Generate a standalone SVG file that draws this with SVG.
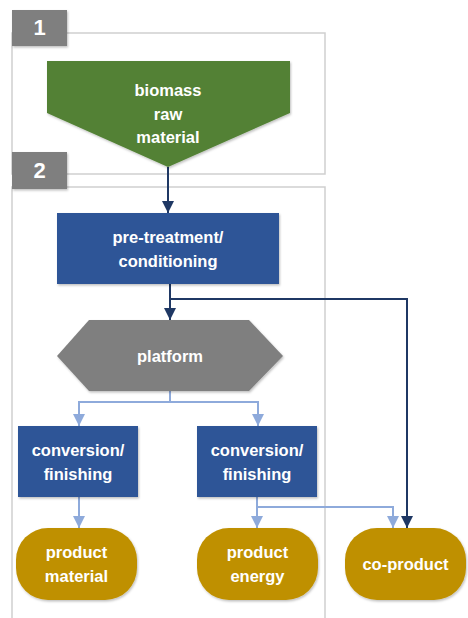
<svg xmlns="http://www.w3.org/2000/svg" width="468" height="618" viewBox="0 0 468 618">
  <style>
    .frame { fill: none; stroke: #cfcfcf; stroke-width: 1.5; }
    .tag { fill: #7f7f7f; }
    .tagtxt { fill: #ffffff; font-family: "Liberation Sans", Arial, sans-serif; font-weight: bold; font-size: 22px; text-anchor: middle; }
    .lbl { fill: #ffffff; font-family: "Liberation Sans", Arial, sans-serif; font-weight: bold; font-size: 16.5px; text-anchor: middle; }
    .raw { fill: #538135; }
    .proc { fill: #2f5597; }
    .plat { fill: #7f7f7f; }
    .prod { fill: #bf9000; }
    .main { fill: none; stroke: #1f3864; stroke-width: 2; }
    .side { fill: none; stroke: #8eaadb; stroke-width: 2; }
  </style>
  <defs>
    <filter id="shadow" x="-10%" y="-10%" width="130%" height="130%">
      <feDropShadow dx="1" dy="1.5" stdDeviation="1.2" flood-color="#000000" flood-opacity="0.25"/>
    </filter>
    <marker id="arrowMain" viewBox="0 0 10 10" refX="10" refY="5" markerWidth="12" markerHeight="12" markerUnits="userSpaceOnUse" orient="auto">
      <path d="M0,0 L10,5 L0,10 Z" fill="#1f3864"/>
    </marker>
    <marker id="arrowSide" viewBox="0 0 10 10" refX="10" refY="5" markerWidth="12" markerHeight="12" markerUnits="userSpaceOnUse" orient="auto">
      <path d="M0,0 L10,5 L0,10 Z" fill="#8eaadb"/>
    </marker>
  </defs>

  <rect width="468" height="618" fill="#ffffff"/>

  <!-- stage frames with numbered tags -->
  <g id="stage-1">
    <rect class="frame" x="12" y="33" width="313" height="141"/>
    <rect class="tag" x="12" y="10" width="55" height="36" filter="url(#shadow)"/>
    <text class="tagtxt" x="39.5" y="35">1</text>
  </g>
  <g id="stage-2">
    <path class="frame" d="M12,618 V187 H325 V618"/>
    <rect class="tag" x="12" y="152" width="55" height="37" filter="url(#shadow)"/>
    <text class="tagtxt" x="39.5" y="178">2</text>
  </g>

  <!-- connectors -->
  <g id="connectors">
    <path class="main" d="M168,167 V213" marker-end="url(#arrowMain)"/>
    <path class="main" d="M170,284 V320" marker-end="url(#arrowMain)"/>
    <path class="main" d="M170,299 H407 V528" marker-end="url(#arrowMain)"/>
    <path class="side" d="M170,391 V402 H79 V426" marker-end="url(#arrowSide)"/>
    <path class="side" d="M170,402 H258 V426" marker-end="url(#arrowSide)"/>
    <path class="side" d="M79,497 V528" marker-end="url(#arrowSide)"/>
    <path class="side" d="M257,497 V528" marker-end="url(#arrowSide)"/>
    <path class="side" d="M257,507 H393 V528" marker-end="url(#arrowSide)"/>
  </g>

  <!-- nodes -->
  <g id="biomass">
    <polygon class="raw" points="47,61 290,61 290,113 168,167 47,113" filter="url(#shadow)"/>
    <text class="lbl" x="168" y="96">biomass</text>
    <text class="lbl" x="168" y="119.5">raw</text>
    <text class="lbl" x="168" y="143">material</text>
  </g>
  <g id="pretreatment">
    <rect class="proc" x="57" y="213" width="222" height="71" filter="url(#shadow)"/>
    <text class="lbl" x="168" y="242.5">pre-treatment/</text>
    <text class="lbl" x="168" y="266.5">conditioning</text>
  </g>
  <g id="platform">
    <polygon class="plat" points="57,356 89,320 249,320 283,356 249,391 89,391" filter="url(#shadow)"/>
    <text class="lbl" x="170" y="362">platform</text>
  </g>
  <g id="conversion-material">
    <rect class="proc" x="18" y="426" width="120" height="71" filter="url(#shadow)"/>
    <text class="lbl" x="78" y="455.5">conversion/</text>
    <text class="lbl" x="78" y="479.5">finishing</text>
  </g>
  <g id="conversion-energy">
    <rect class="proc" x="197" y="426" width="120" height="71" filter="url(#shadow)"/>
    <text class="lbl" x="257" y="455.5">conversion/</text>
    <text class="lbl" x="257" y="479.5">finishing</text>
  </g>
  <g id="product-material">
    <rect class="prod" x="16" y="528" width="121" height="72" rx="32" ry="32" filter="url(#shadow)"/>
    <text class="lbl" x="76.5" y="558">product</text>
    <text class="lbl" x="76.5" y="582">material</text>
  </g>
  <g id="product-energy">
    <rect class="prod" x="197" y="528" width="121" height="72" rx="32" ry="32" filter="url(#shadow)"/>
    <text class="lbl" x="257.5" y="558">product</text>
    <text class="lbl" x="257.5" y="582">energy</text>
  </g>
  <g id="co-product">
    <rect class="prod" x="345" y="528" width="121" height="72" rx="32" ry="32" filter="url(#shadow)"/>
    <text class="lbl" x="405.5" y="570">co-product</text>
  </g>
</svg>
